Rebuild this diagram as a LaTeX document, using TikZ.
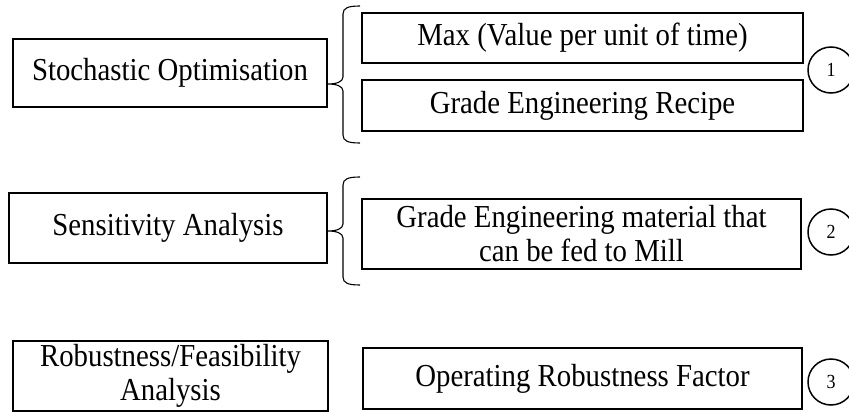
\documentclass[tikz,border=0pt]{standalone}
\usepackage{fontspec}
\setmainfont{Liberation Serif}[FakeStretch=0.9]
\begin{document}
\begin{tikzpicture}[x=1pt,y=-1pt,
  box/.style={draw, line width=1.7pt, inner sep=0pt, align=center,
    font=\fontsize{32}{34}\selectfont},
  num/.style={draw, circle, line width=1.5pt, minimum size=46pt, inner sep=0pt,
    font=\fontsize{20}{22}\selectfont},
  bracepath/.style={line width=1.1pt, line join=round}]
\useasboundingbox (0,0) rectangle (849,412);

% methods on the left
\node[box, minimum width=314pt, minimum height=68pt] (so) at (170,73) {Stochastic Optimisation};
\node[box, minimum width=318pt, minimum height=70pt] (sa) at (168,228) {Sensitivity Analysis};
\node[box, minimum width=315pt, minimum height=70pt] (ra) at (170.5,376) {Robustness/Feasibility\\Analysis};

% outcomes on the right
\node[box, minimum width=441pt, minimum height=50pt] (max) at (582.5,38) {Max (Value per unit of time)};
\node[box, minimum width=441pt, minimum height=51pt] (rec) at (582.5,105.5) {Grade Engineering Recipe};
\node[box, minimum width=439pt, minimum height=70pt] (mat) at (581.5,234) {Grade Engineering material that\\can be fed to Mill};
\node[box, minimum width=439pt, minimum height=61pt] (orf) at (582.5,378.5) {Operating Robustness Factor};

% numbered markers
\node[num] (n1) at (831,70) {1};
\node[num] (n2) at (831,232) {2};
\node[num] (n3) at (831,382) {3};

% curly braces grouping the outcomes
\draw[bracepath] (360,6) .. controls (348,6) and (343,8) .. (343,14) -- (343,77)
  .. controls (343,82) and (336,84) .. (328,84)
  .. controls (336,84) and (343,86) .. (343,91) -- (343,135)
  .. controls (343,141) and (348,143) .. (360,143);
\draw[bracepath] (360,177) .. controls (348,177) and (343,179) .. (343,185) -- (343,224)
  .. controls (343,229) and (336,231) .. (328,231)
  .. controls (336,231) and (343,233) .. (343,238) -- (343,277)
  .. controls (343,283) and (348,285) .. (360,285);
\end{tikzpicture}
\end{document}
